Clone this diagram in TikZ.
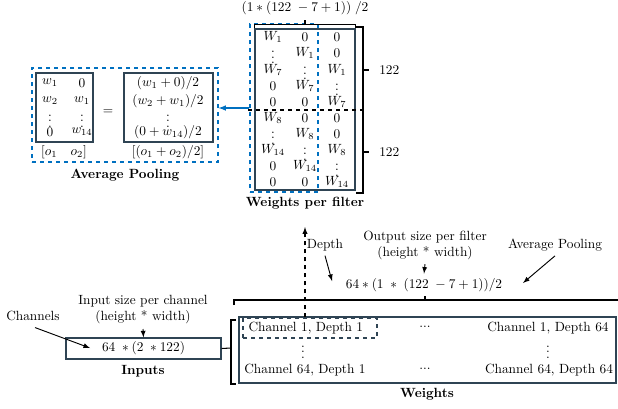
\documentclass[tikz,border=0pt]{standalone}
\usepackage{amsmath}
\usepackage{amssymb}
\usepackage{xcolor}
\usepackage{tikz}
\usetikzlibrary{positioning}

\definecolor{poolblue}{RGB}{0,112,192}
\definecolor{boxgray}{RGB}{47,68,84}

\begin{document}
\begin{tikzpicture}[x=0.75pt,y=-0.75pt,
  box/.style={draw=boxgray, line width=0.9pt, inner sep=0pt},
  bluebox/.style={draw=poolblue, dashed, line width=0.9pt, inner sep=0pt},
  dashbox/.style={draw=boxgray, dashed, line width=0.8pt},
  entry/.style={inner sep=0.5pt},
  title/.style={font=\bfseries},
  pointer/.style={-latex, line width=0.7pt}]
\useasboundingbox (0,0) rectangle (618,408);

% weights per filter (two stacked blocks)
\node[box, minimum width=75pt, minimum height=120.75pt] (wpf) at (305,109.5) {};
\node[bluebox, minimum width=51pt, minimum height=126pt] (filterbox) at (284,108) {};
\foreach \a/\b/\c [count=\i] in {W_1/0/0, \vdots/W_1/0, W_7/\vdots/W_1, 0/W_7/\vdots, 0/0/W_7} {
  \node[entry] at (273,{21+16.2*\i}) {$\a$};
  \node[entry] at (305,{21+16.2*\i}) {$\b$};
  \node[entry] at (337,{21+16.2*\i}) {$\c$};
}
\foreach \a/\b/\c [count=\i] in {W_8/0/0, \vdots/W_8/0, W_{14}/\vdots/W_8, 0/W_{14}/\vdots, 0/0/W_{14}} {
  \node[entry] at (273,{102+16*\i}) {$\a$};
  \node[entry] at (305,{102+16*\i}) {$\b$};
  \node[entry] at (337,{102+16*\i}) {$\c$};
}
\draw[dashed, line width=0.8pt] (248,110) -- (363,110);
\node[title] (wpflabel) at (305,203) {Weights per filter};

% bracket on top and the two 122 brackets
\node (topform) at (305,8) {$(1 \ast (122\; - 7 + 1))\;/2$};
\draw[line width=0.8pt] (wpf.north west) -- ++(0,-4) -| (wpf.north east);
\draw[line width=0.8pt] (305,25) -- (305,20);
\draw[line width=0.8pt] (356,27) -- (363,27) -- (363,193) -- (356,193);
\draw[line width=0.8pt] (363,70) -- (369,70) node[right=4pt]{$122$};
\draw[line width=0.8pt] (363,152) -- (369,152) node[right=4pt]{$122$};

% average pooling
\node[bluebox, minimum width=139.5pt, minimum height=70.5pt] (poolbox) at (125,115) {};
\node[box, minimum width=42.75pt, minimum height=51.75pt] (wmat) at (64.5,107.5) {};
\node[box, minimum width=66.75pt, minimum height=51.75pt] (avg) at (168.5,107.5) {};
\foreach \a/\b/\r in {w_1/0/83, w_2/w_1/101, \vdots/\vdots/117, 0/w_{14}/132} {
  \node[entry] at (50,\r) {$\a$};
  \node[entry] at (82,\r) {$\b$};
}
\foreach \e/\r in {{(w_1+0)/2}/83, {(w_2+w_1)/2}/101, \vdots/117, {(0+w_{14})/2}/132}
  \node[entry] at (168,\r) {$\e$};
\node at (64,152) {$[o_1 \quad o_2]$};
\node at (108,112) {$=$};
\node at (168,152) {$[(o_1+o_2)/2]$};
\node[title] (poollabel) at (125,175) {Average Pooling};
\draw[-latex, poolblue, line width=0.9pt] (filterbox.west) -- (filterbox.west -| poolbox.east);

% inputs
\node[box, minimum width=116.25pt, minimum height=15.75pt] (inputs) at (143.5,348.5) {$64\; \ast (2\; \ast 122)$};
\node[title] at (143,371) {Inputs};
\node[align=center] (insize) at (143,310) {Input size per channel\\(height * width)};
\node (channels) at (33,316) {Channels};
\draw[pointer] (insize.south) -- (inputs.north);
\draw[pointer] (channels.south) ++(2,2) -- (90,348);

% weights
\node[box, minimum width=282.75pt, minimum height=49.5pt] (weights) at (427.5,350) {};
\node[dashbox, minimum width=100.5pt, minimum height=15pt, inner sep=0pt] (c11) at (310,328) {};
\node[anchor=west] at ([xshift=1pt]c11.west) {Channel 1, Depth 1};
\node at (425,327) {...};
\node at (548,328) {Channel 1, Depth 64};
\node at (303,348) {$\vdots$};
\node at (548,348) {$\vdots$};
\node at (305,370) {Channel 64, Depth 1};
\node at (425,369) {...};
\node at (549,370) {Channel 64, Depth 64};
\node[title] at (427,394) {Weights};

% brackets around the weights
\draw[line width=0.8pt] (236,320) -- (231,320) -- (231,384) -- (236,384);
\draw[line width=0.8pt] (231,348) -- (inputs.east);
\draw[line width=0.8pt] (234,305) -- (234,300) -- (618,300);
\draw[line width=0.8pt] (425,300) -- (425,296);

% output size
\node (form) at (424,285) {$64 \ast (1 \;\ast\; (122\; - 7 + 1))/2$};
\node[align=center] (outsize) at (425,245) {Output size per filter\\(height * width)};
\node (depth) at (325,245) {Depth};
\node (pool) at (555,245) {Average Pooling};
\draw[pointer] (outsize.south) -- (form.north);
\draw[pointer] (depth.south) -- (332,281);
\draw[pointer] (pool.south) -- (523,283);
\draw[dashed, -latex, line width=0.8pt] (c11.north -| wpflabel.south) -- ([yshift=-10pt]wpflabel.south);
\end{tikzpicture}
\end{document}
